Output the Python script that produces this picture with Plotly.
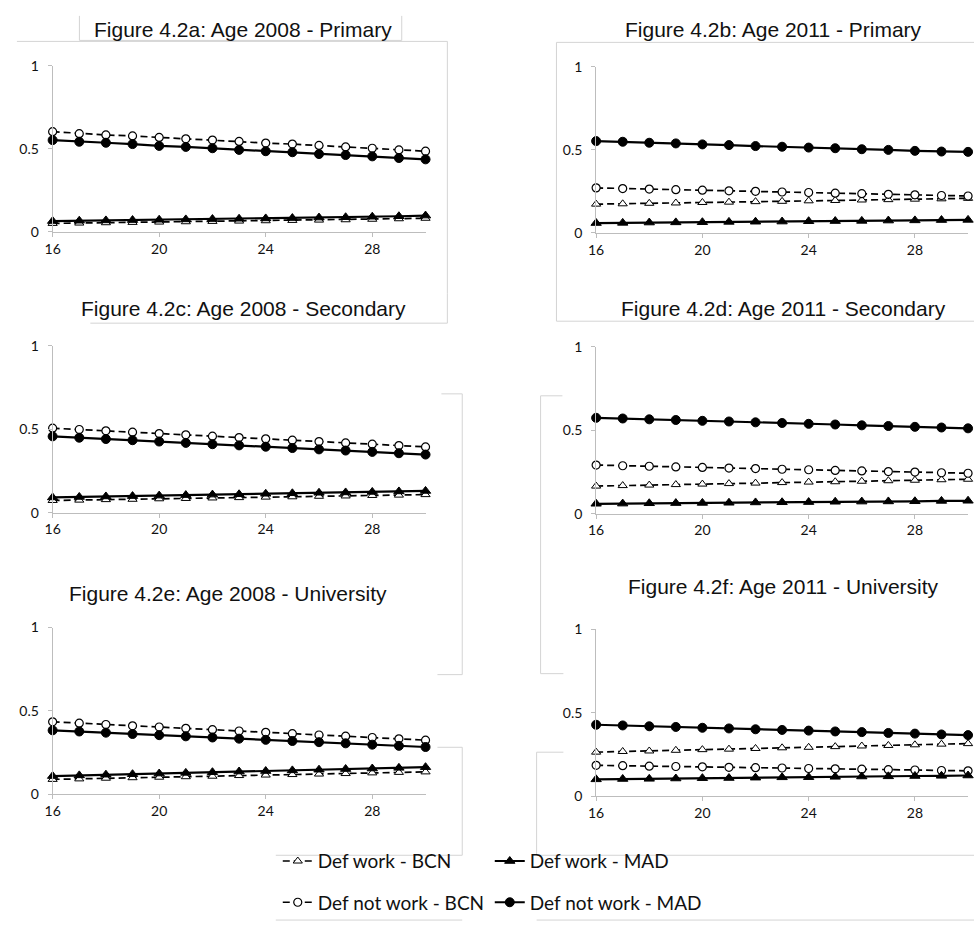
import plotly.graph_objects as go

W, H = 974, 932

ages = list(range(16, 31))
x_tick_vals = [16, 20, 24, 28]
y_tick_vals = [0, 0.5, 1]
y_tick_text = ["0", "0.5", "1"]

series_names = ["Def work - BCN", "Def work - MAD", "Def not work - BCN", "Def not work - MAD"]

titles = [
    "Figure 4.2a: Age 2008 - Primary",
    "Figure 4.2b: Age 2011 - Primary",
    "Figure 4.2c: Age 2008 - Secondary",
    "Figure 4.2d: Age 2011 - Secondary",
    "Figure 4.2e: Age 2008 - University",
    "Figure 4.2f: Age 2011 - University",
]

# Probabilities by age (16..30) for each panel
a_work_bcn = [0.051, 0.053, 0.055, 0.057, 0.059, 0.061, 0.063, 0.065, 0.067, 0.069, 0.071, 0.073, 0.076, 0.079, 0.082]
a_work_mad = [0.065, 0.067, 0.069, 0.071, 0.073, 0.075, 0.077, 0.079, 0.081, 0.083, 0.086, 0.088, 0.091, 0.094, 0.098]
a_notwork_bcn = [0.604, 0.592, 0.584, 0.578, 0.569, 0.561, 0.553, 0.545, 0.535, 0.529, 0.521, 0.512, 0.504, 0.494, 0.486]
a_notwork_mad = [0.553, 0.543, 0.537, 0.529, 0.518, 0.512, 0.504, 0.494, 0.486, 0.480, 0.469, 0.463, 0.455, 0.445, 0.437]

b_work_bcn = [0.173, 0.175, 0.178, 0.180, 0.183, 0.185, 0.188, 0.190, 0.193, 0.195, 0.198, 0.200, 0.203, 0.205, 0.208]
b_work_mad = [0.059, 0.060, 0.062, 0.063, 0.064, 0.066, 0.067, 0.068, 0.070, 0.071, 0.072, 0.074, 0.075, 0.077, 0.078]
b_notwork_bcn = [0.271, 0.267, 0.264, 0.260, 0.257, 0.253, 0.250, 0.246, 0.243, 0.239, 0.236, 0.232, 0.229, 0.225, 0.222]
b_notwork_mad = [0.553, 0.549, 0.543, 0.539, 0.533, 0.529, 0.523, 0.519, 0.514, 0.510, 0.504, 0.500, 0.494, 0.490, 0.488]

c_work_bcn = [0.073, 0.075, 0.078, 0.080, 0.083, 0.085, 0.088, 0.090, 0.093, 0.095, 0.098, 0.100, 0.103, 0.105, 0.108]
c_work_mad = [0.091, 0.094, 0.097, 0.099, 0.102, 0.105, 0.108, 0.110, 0.113, 0.116, 0.119, 0.121, 0.124, 0.127, 0.130]
c_notwork_bcn = [0.506, 0.498, 0.490, 0.482, 0.474, 0.466, 0.458, 0.450, 0.442, 0.434, 0.426, 0.418, 0.410, 0.402, 0.394]
c_notwork_mad = [0.457, 0.449, 0.441, 0.434, 0.426, 0.418, 0.410, 0.403, 0.395, 0.387, 0.379, 0.372, 0.364, 0.356, 0.348]

d_work_bcn = [0.165, 0.168, 0.171, 0.174, 0.177, 0.180, 0.183, 0.186, 0.189, 0.191, 0.194, 0.197, 0.200, 0.203, 0.206]
d_work_mad = [0.059, 0.060, 0.062, 0.063, 0.064, 0.065, 0.067, 0.068, 0.069, 0.071, 0.072, 0.073, 0.074, 0.076, 0.077]
d_notwork_bcn = [0.291, 0.287, 0.284, 0.280, 0.277, 0.273, 0.270, 0.266, 0.263, 0.259, 0.256, 0.252, 0.249, 0.245, 0.242]
d_notwork_mad = [0.574, 0.570, 0.565, 0.561, 0.556, 0.552, 0.547, 0.543, 0.538, 0.534, 0.529, 0.525, 0.520, 0.516, 0.511]

e_work_bcn = [0.090, 0.093, 0.097, 0.100, 0.103, 0.106, 0.109, 0.113, 0.116, 0.119, 0.122, 0.125, 0.129, 0.132, 0.135]
e_work_mad = [0.110, 0.114, 0.118, 0.121, 0.125, 0.129, 0.133, 0.137, 0.140, 0.144, 0.148, 0.152, 0.155, 0.159, 0.163]
e_notwork_bcn = [0.435, 0.427, 0.419, 0.411, 0.404, 0.396, 0.388, 0.380, 0.372, 0.364, 0.356, 0.349, 0.341, 0.333, 0.325]
e_notwork_mad = [0.384, 0.377, 0.370, 0.362, 0.355, 0.348, 0.341, 0.334, 0.327, 0.320, 0.313, 0.306, 0.298, 0.291, 0.284]

f_work_bcn = [0.265, 0.269, 0.272, 0.276, 0.280, 0.283, 0.287, 0.291, 0.294, 0.298, 0.302, 0.305, 0.309, 0.313, 0.316]
f_work_mad = [0.102, 0.104, 0.105, 0.107, 0.109, 0.110, 0.112, 0.114, 0.115, 0.117, 0.119, 0.120, 0.122, 0.123, 0.125]
f_notwork_bcn = [0.186, 0.184, 0.181, 0.179, 0.177, 0.174, 0.172, 0.170, 0.167, 0.165, 0.163, 0.160, 0.158, 0.155, 0.153]
f_notwork_mad = [0.429, 0.425, 0.420, 0.416, 0.411, 0.407, 0.402, 0.398, 0.394, 0.389, 0.385, 0.380, 0.376, 0.371, 0.367]

panels = [
    [a_work_bcn, a_work_mad, a_notwork_bcn, a_notwork_mad],
    [b_work_bcn, b_work_mad, b_notwork_bcn, b_notwork_mad],
    [c_work_bcn, c_work_mad, c_notwork_bcn, c_notwork_mad],
    [d_work_bcn, d_work_mad, d_notwork_bcn, d_notwork_mad],
    [e_work_bcn, e_work_mad, e_notwork_bcn, e_notwork_mad],
    [f_work_bcn, f_work_mad, f_notwork_bcn, f_notwork_mad],
]

# Pixel boxes of each plotting area: (left, right, bottom, top)
boxes = [
    (45, 421, 227, 58),
    (593, 968, 228, 59),
    (45, 421, 513, 343),
    (593, 968, 514, 344),
    (45, 421, 800, 630),
    (593, 968, 802, 632),
]
# Title centre positions (x, y) in pixels
title_pos = [(237, 21), (772, 21), (237, 305), (782, 305), (222, 595), (782, 588)]

TICK_FONT = dict(family="Lato, Carlito, sans-serif", size=14, color="#111")
AXIS_GREY = "#bdbdbd"

# Line / marker style per series
styles = [
    dict(line=dict(color="black", width=1.7, dash="7px,4px"),
         marker=dict(symbol="triangle-up", size=8, color="white", line=dict(color="black", width=1))),
    dict(line=dict(color="black", width=2.2),
         marker=dict(symbol="triangle-up", size=9, color="black", line=dict(color="black", width=1))),
    dict(line=dict(color="black", width=1.7, dash="7px,4px"),
         marker=dict(symbol="circle", size=8, color="white", line=dict(color="black", width=1.2))),
    dict(line=dict(color="black", width=2.2),
         marker=dict(symbol="circle", size=9, color="black", line=dict(color="black", width=1))),
]
legend_of = ["legend", "legend", "legend2", "legend2"]


def px_x(v):
    return v / W


def px_y(v):
    return 1 - v / H


fig = go.Figure()
layout = {}

for i, (series, box) in enumerate(zip(panels, boxes)):
    n = i + 1
    xa = "x" if n == 1 else f"x{n}"
    ya = "y" if n == 1 else f"y{n}"
    # solid MAD lines are drawn over the dashed BCN lines
    for k in [0, 2, 1, 3]:
        fig.add_trace(go.Scatter(
            x=ages, y=series[k], name=series_names[k], mode="lines+markers",
            xaxis=xa, yaxis=ya, cliponaxis=False,
            showlegend=(i == 0), legend=legend_of[k],
            **styles[k],
        ))
    left, right, bottom, top = box
    layout[f"xaxis{'' if n == 1 else n}"] = dict(
        domain=[px_x(left), px_x(right)], anchor=ya, range=[16, 30],
        tickvals=x_tick_vals, ticks="outside", ticklen=4, tickcolor=AXIS_GREY,
        showline=True, linecolor=AXIS_GREY, linewidth=1, showgrid=False, zeroline=False,
        tickfont=TICK_FONT, fixedrange=True,
    )
    layout[f"yaxis{'' if n == 1 else n}"] = dict(
        domain=[px_y(bottom), px_y(top)], anchor=xa, range=[0, 1],
        tickvals=y_tick_vals, ticktext=y_tick_text, ticks="outside", ticklen=4,
        tickcolor=AXIS_GREY, ticklabelstandoff=6,
        showline=True, linecolor=AXIS_GREY, linewidth=1, showgrid=False, zeroline=False,
        tickfont=TICK_FONT, fixedrange=True,
    )

annotations = []
for t, (cx, cy) in zip(titles, title_pos):
    annotations.append(dict(
        text=t, x=px_x(cx), y=px_y(cy), xref="paper", yref="paper",
        xanchor="center", yanchor="middle", showarrow=False,
        font=dict(family="Liberation Sans, Arial, sans-serif", size=21, color="#111"),
    ))

# Thin grey frame pieces left around the panels
frame_segments = [
    (72, 7, 72, 32), (397, 7, 397, 32), (72, 32, 397, 32), (9, 33, 443, 33),
    (443, 33, 443, 290), (443, 290, 443, 320), (83, 320, 443, 320),
    (437, 392, 458, 392), (458, 392, 458, 678), (433, 678, 458, 678),
    (433, 752, 458, 752), (458, 752, 458, 862), (270, 862, 458, 862),
    (553, 34, 974, 34), (553, 34, 553, 318), (553, 318, 974, 318),
    (537, 394, 559, 394), (537, 394, 537, 677), (537, 677, 560, 677),
    (533, 757, 560, 757), (533, 757, 533, 862), (533, 862, 974, 862),
    (270, 928, 458, 928), (533, 928, 974, 928),
]
shapes = [
    dict(type="line", xref="paper", yref="paper",
         x0=px_x(x0), y0=px_y(y0), x1=px_x(x1), y1=px_y(y1),
         line=dict(color="#d4d4d4", width=1))
    for x0, y0, x1, y1 in frame_segments
]

legend_common = dict(
    orientation="h", xanchor="left", yanchor="middle", x=px_x(272),
    bgcolor="rgba(0,0,0,0)", font=dict(family="Lato, Carlito, sans-serif", size=19, color="#111"),
    entrywidth=167, entrywidthmode="pixels", itemwidth=30, tracegroupgap=0,
)

fig.update_layout(
    width=W, height=H, margin=dict(l=0, r=0, t=0, b=0),
    paper_bgcolor="white", plot_bgcolor="white",
    annotations=annotations, shapes=shapes,
    legend=dict(y=px_y(868), **legend_common),
    legend2=dict(y=px_y(910), **legend_common),
    **layout,
)

fig.write_html("out.html")
